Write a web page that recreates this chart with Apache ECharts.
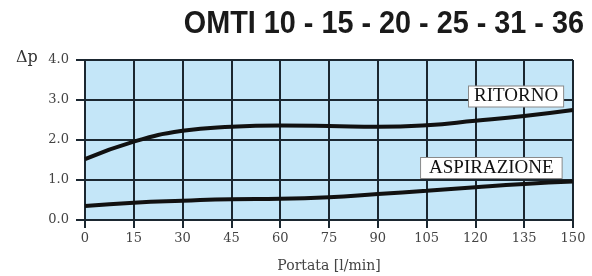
<!DOCTYPE html>
<html>
<head>
<meta charset="utf-8">
<script src="https://cdn.jsdelivr.net/npm/echarts@6/dist/echarts.min.js"></script>
<style>
html,body{margin:0;padding:0;background:#fff;}
#chart{width:592px;height:276px;}
</style>
</head>
<body>
<div id="chart"></div>
<script>
// portata [l/min]
var portata = [0, 15, 30, 45, 60, 75, 90, 105, 120, 135, 150];
// perdita di carico, ritorno
var ritorno = [1.52, 1.96, 2.23, 2.33, 2.36, 2.35, 2.33, 2.37, 2.48, 2.6, 2.75];
// perdita di carico, aspirazione
var aspirazione = [0.35, 0.43, 0.48, 0.52, 0.53, 0.57, 0.65, 0.73, 0.82, 0.9, 0.96];
var titolo = 'OMTI 10 - 15 - 20 - 25 - 31 - 36';

function coppie(xs, ys){
	var out = [];
	for(var i = 0; i < xs.length; i++){
		out.push([xs[i], ys[i]]);
	}
	return out;
}

function etichetta(testo, pad){
	return {
		show: true,
		formatter: testo,
		color: '#111',
		fontFamily: 'Liberation Serif',
		fontSize: 19,
		backgroundColor: '#fff',
		borderColor: '#8a8a8a',
		borderWidth: 1,
		padding: [1, pad, 0, pad]
	};
}

var griglia = {color: '#1b2730', width: 2};
var serif = 'DejaVu Serif';

var myChart = echarts.init(document.getElementById('chart'));
myChart.setOption({
	backgroundColor: '#fff',
	animation: false,
	graphic: [{
		type: 'text',
		x: 584,
		y: 8,
		scaleX: 0.9,
		style: {
			text: titolo, x: 0, y: 0, align: 'right', verticalAlign: 'top',
			font: 'bold 32px "Liberation Sans"', fill: '#1a1a1a'
		}
	}, {
		type: 'text',
		left: 16,
		top: 50,
		style: {text: 'Δp', font: '16px "DejaVu Serif"', fill: '#333'}
	}],
	grid: {
		left: 85,
		right: 19,
		top: 60,
		bottom: 56,
		outerBoundsMode: 'none',
		show: true,
		backgroundColor: '#c4e6f8',
		borderWidth: 0
	},
	xAxis: {
		type: 'value',
		min: 0,
		max: 150,
		interval: 15,
		name: 'Portata [l/min]',
		nameLocation: 'middle',
		nameGap: 39,
		nameTextStyle: {fontFamily: serif, fontSize: 14, color: '#444'},
		axisLine: {show: true, lineStyle: griglia},
		axisTick: {show: true, length: 8, lineStyle: griglia},
		axisLabel: {fontFamily: serif, fontSize: 13, color: '#444', margin: 12},
		splitLine: {show: true, lineStyle: griglia}
	},
	yAxis: {
		type: 'value',
		min: 0,
		max: 4,
		interval: 1,
		axisLine: {show: true, lineStyle: griglia},
		axisTick: {show: true, length: 9, lineStyle: griglia},
		axisLabel: {
			fontFamily: serif, fontSize: 13, color: '#444', margin: 16,
			formatter: function(v){ return v.toFixed(1); }
		},
		splitLine: {show: true, lineStyle: griglia}
	},
	series: [{
		name: 'RITORNO',
		type: 'line',
		smooth: true,
		showSymbol: false,
		lineStyle: {color: '#111', width: 4},
		data: coppie(portata, ritorno),
		markPoint: {
			symbolSize: 0,
			label: etichetta('RITORNO', 5),
			data: [{coord: [132.5, 3.09]}]
		}
	}, {
		name: 'ASPIRAZIONE',
		type: 'line',
		smooth: true,
		showSymbol: false,
		lineStyle: {color: '#111', width: 4},
		data: coppie(portata, aspirazione),
		markPoint: {
			symbolSize: 0,
			label: etichetta('ASPIRAZIONE', 8),
			data: [{coord: [124.9, 1.3]}]
		}
	}]
});
</script>
</body>
</html>
